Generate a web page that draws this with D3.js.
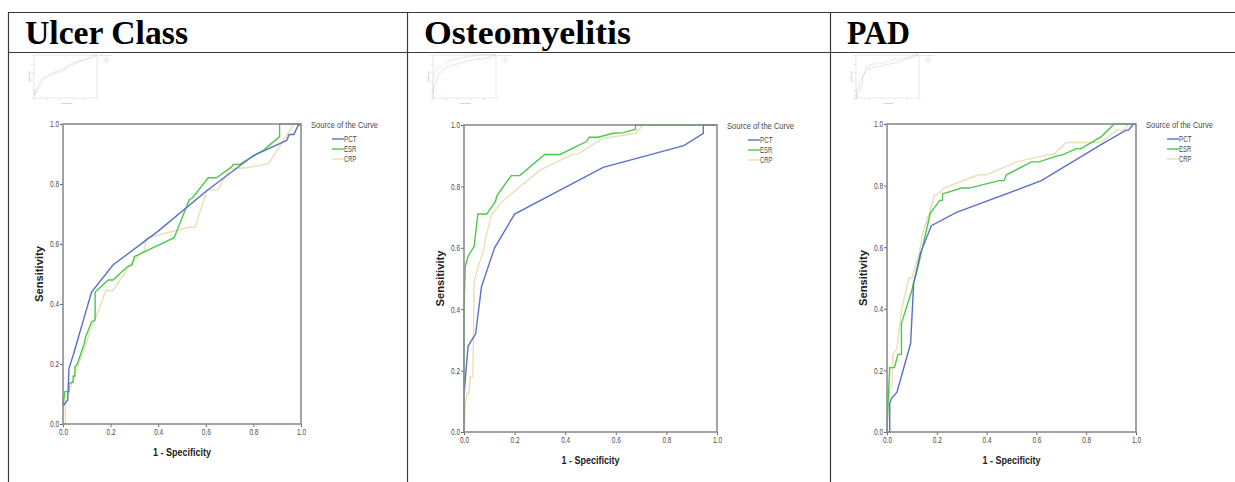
<!DOCTYPE html>
<html>
<head>
<meta charset="utf-8">
<script src="https://cdnjs.cloudflare.com/ajax/libs/d3/7.8.5/d3.min.js"></script>
<style>
  body { margin: 0; background: #fff; }
  svg { display: block; }
</style>
</head>
<body>
<svg id="main"></svg>
<script>
// ROC points [1 - specificity, sensitivity]
const ulcerPCT = [[0,0.06],[0.02,0.08],[0.025,0.185],[0.043,0.23],[0.12,0.44],[0.21,0.53],[0.4,0.643],[0.6,0.775],[0.8,0.895],[0.94,0.945],[0.95,0.965],[0.97,0.965],[0.987,0.994],[1,1]];
const ulcerESR = [[0,0.06],[0.008,0.108],[0.025,0.108],[0.025,0.135],[0.043,0.14],[0.043,0.16],[0.05,0.16],[0.05,0.19],[0.06,0.2],[0.09,0.27],[0.095,0.29],[0.12,0.34],[0.135,0.347],[0.135,0.44],[0.19,0.48],[0.21,0.48],[0.27,0.524],[0.29,0.53],[0.3,0.558],[0.467,0.621],[0.53,0.747],[0.545,0.755],[0.555,0.765],[0.61,0.821],[0.645,0.821],[0.71,0.858],[0.715,0.865],[0.74,0.865],[0.843,0.913],[0.91,0.958],[0.91,1],[1,1]];
const ulcerCRP = [[0,0],[0.01,0],[0.01,0.08],[0.02,0.1],[0.03,0.12],[0.045,0.15],[0.06,0.19],[0.09,0.25],[0.11,0.3],[0.13,0.34],[0.14,0.36],[0.15,0.38],[0.18,0.445],[0.21,0.445],[0.24,0.48],[0.28,0.53],[0.33,0.57],[0.345,0.58],[0.345,0.618],[0.45,0.64],[0.53,0.656],[0.555,0.656],[0.605,0.78],[0.65,0.78],[0.7,0.85],[0.78,0.855],[0.864,0.868],[0.93,0.95],[0.97,1],[1,1]];

const osteoPCT = [[0,0.12],[0.016,0.28],[0.046,0.32],[0.069,0.473],[0.121,0.6],[0.2,0.71],[0.55,0.862],[0.869,0.933],[0.946,0.973],[0.946,1],[1,1]];
const osteoESR = [[0,0],[0,0.4],[0.005,0.54],[0.015,0.57],[0.04,0.605],[0.055,0.71],[0.09,0.71],[0.125,0.752],[0.13,0.77],[0.187,0.835],[0.22,0.835],[0.319,0.904],[0.38,0.904],[0.484,0.946],[0.495,0.96],[0.53,0.96],[0.59,0.973],[0.63,0.975],[0.678,0.986],[0.678,1],[1,1]];
const osteoCRP = [[0,0],[0.005,0.085],[0.012,0.126],[0.02,0.126],[0.025,0.18],[0.035,0.18],[0.04,0.49],[0.06,0.55],[0.078,0.593],[0.085,0.63],[0.11,0.71],[0.15,0.75],[0.3,0.853],[0.43,0.905],[0.45,0.905],[0.55,0.957],[0.58,0.96],[0.678,0.973],[0.708,1],[1,1]];

const padPCT = [[0,0],[0.011,0],[0.011,0.093],[0.017,0.108],[0.04,0.129],[0.067,0.207],[0.095,0.288],[0.107,0.483],[0.134,0.58],[0.178,0.67],[0.279,0.713],[0.62,0.816],[0.853,0.93],[0.96,0.98],[0.97,0.98],[0.99,1],[1,1]];
const padESR = [[0,0],[0.004,0.09],[0.011,0.209],[0.03,0.209],[0.044,0.252],[0.058,0.252],[0.058,0.353],[0.1,0.46],[0.105,0.48],[0.12,0.52],[0.174,0.711],[0.212,0.752],[0.223,0.752],[0.223,0.773],[0.3,0.792],[0.33,0.792],[0.45,0.816],[0.47,0.816],[0.48,0.835],[0.58,0.877],[0.61,0.877],[0.69,0.898],[0.7,0.898],[0.761,0.92],[0.78,0.92],[0.862,0.96],[0.912,1],[1,1]];
const padCRP = [[0,0],[0.004,0.085],[0.012,0.14],[0.02,0.15],[0.024,0.252],[0.04,0.27],[0.044,0.3],[0.058,0.397],[0.088,0.5],[0.1,0.5],[0.129,0.58],[0.145,0.65],[0.178,0.732],[0.19,0.77],[0.2,0.77],[0.229,0.792],[0.366,0.835],[0.4,0.835],[0.52,0.877],[0.66,0.902],[0.67,0.902],[0.72,0.94],[0.86,0.94],[0.922,0.98],[0.95,0.98],[0.97,1],[1,1]];

const titles = ['Ulcer Class', 'Osteomyelitis', 'PAD'];
const seriesNames = ['PCT', 'ESR', 'CRP'];
const seriesColors = ['#5b6fcc', '#4cc84c', '#e8e0b4'];
const ticks = [0, 0.2, 0.4, 0.6, 0.8, 1.0];

const panelData = [
  [ulcerPCT, ulcerESR, ulcerCRP],
  [osteoPCT, osteoESR, osteoCRP],
  [padPCT, padESR, padCRP]
];

// layout
const width = 1235, height = 482;
const cells = [8, 407, 830];
const titleWidths = [163, 207, 63];
const plots = [
  { x0: 63, x1: 301, y0: 124, y1: 424 },
  { x0: 464, x1: 717, y0: 125, y1: 432 },
  { x0: 887, x1: 1136, y0: 124, y1: 432 }
];

const svg = d3.select('#main')
  .attr('width', width)
  .attr('height', height);

// table lines
const lineCol = '#3a3a3a';
svg.append('line').attr('x1', 8).attr('x2', width).attr('y1', 12.5).attr('y2', 12.5)
  .attr('stroke', lineCol).attr('stroke-width', 1.2);
svg.append('line').attr('x1', 8).attr('x2', width).attr('y1', 52.5).attr('y2', 52.5)
  .attr('stroke', lineCol).attr('stroke-width', 1.2);
cells.forEach(cx => {
  svg.append('line').attr('x1', cx + 0.5).attr('x2', cx + 0.5).attr('y1', 12).attr('y2', height)
    .attr('stroke', lineCol).attr('stroke-width', 1.2);
});

titles.forEach((t, i) => {
  svg.append('text')
    .text(t)
    .attr('x', cells[i] + 17)
    .attr('y', 44)
    .attr('font-family', 'Liberation Serif')
    .attr('font-weight', 'bold')
    .attr('font-size', 34)
    .attr('textLength', titleWidths[i])
    .attr('lengthAdjust', 'spacingAndGlyphs')
    .attr('fill', '#000');
});

const drawRoc = (g, p, data, opts) => {
  const x = d3.scaleLinear().domain([0, 1]).range([p.x0, p.x1]);
  const y = d3.scaleLinear().domain([0, 1]).range([p.y1, p.y0]);
  const s = opts.s;

  g.append('g')
    .attr('transform', `translate(0, ${p.y1})`)
    .call(d3.axisBottom(x).tickValues(ticks).tickFormat(d3.format('.1f')).tickSize(3 * s).tickPadding(2 * s))
    .call(a => {
      a.select('.domain').remove();
      a.selectAll('line').attr('stroke', opts.axisCol).attr('stroke-width', s);
      a.selectAll('text').attr('font-family', 'Liberation Sans').attr('font-size', 8.5 * s)
        .attr('fill', opts.textCol).attr('textLength', 9 * s).attr('lengthAdjust', 'spacingAndGlyphs');
    });

  g.append('g')
    .attr('transform', `translate(${p.x0}, 0)`)
    .call(d3.axisLeft(y).tickValues(ticks).tickFormat(d3.format('.1f')).tickSize(3 * s).tickPadding(1 * s))
    .call(a => {
      a.select('.domain').remove();
      a.selectAll('line').attr('stroke', opts.axisCol).attr('stroke-width', s);
      a.selectAll('text').attr('font-family', 'Liberation Sans').attr('font-size', 8.5 * s)
        .attr('fill', opts.textCol).attr('textLength', 9 * s).attr('lengthAdjust', 'spacingAndGlyphs')
        .attr('dy', '0.35em');
    });

  const line = d3.line().x(d => x(d[0])).y(d => y(d[1]));

  // curves drawn CRP first so PCT sits on top
  [2, 1, 0].forEach(k => {
    g.append('path')
      .datum(data[k])
      .attr('d', line)
      .attr('fill', 'none')
      .attr('stroke', seriesColors[k])
      .attr('stroke-opacity', opts.curveOpacity)
      .attr('stroke-width', 1.4 * s);
  });

  g.append('rect')
    .attr('x', p.x0).attr('y', p.y0)
    .attr('width', p.x1 - p.x0).attr('height', p.y1 - p.y0)
    .attr('fill', 'none')
    .attr('stroke', opts.frameCol)
    .attr('stroke-width', 1.6 * s);

  g.append('text')
    .text('Sensitivity')
    .attr('transform', `translate(${p.x0 - 20 * s}, ${(p.y0 + p.y1) / 2}) rotate(-90)`)
    .attr('text-anchor', 'middle')
    .attr('font-family', 'Liberation Sans')
    .attr('font-weight', 'bold')
    .attr('font-size', 11 * s)
    .attr('textLength', 56 * s)
    .attr('lengthAdjust', 'spacingAndGlyphs')
    .attr('fill', opts.labelCol);

  g.append('text')
    .text('1 - Specificity')
    .attr('x', (p.x0 + p.x1) / 2)
    .attr('y', p.y1 + 32 * s)
    .attr('text-anchor', 'middle')
    .attr('font-family', 'Liberation Sans')
    .attr('font-weight', 'bold')
    .attr('font-size', 11 * s)
    .attr('textLength', 58 * s)
    .attr('lengthAdjust', 'spacingAndGlyphs')
    .attr('fill', opts.labelCol);

  // legend
  g.append('text')
    .text('Source of the Curve')
    .attr('x', p.x1 + 10 * s)
    .attr('y', p.y0 + 3.5 * s)
    .attr('font-family', 'Liberation Sans')
    .attr('font-size', 9.5 * s)
    .attr('textLength', 67 * s)
    .attr('lengthAdjust', 'spacingAndGlyphs')
    .attr('fill', opts.textCol);

  seriesNames.forEach((n, k) => {
    const ly = p.y0 + (15 + 10 * k) * s;
    g.append('line')
      .attr('x1', p.x1 + 31 * s).attr('x2', p.x1 + 43 * s)
      .attr('y1', ly).attr('y2', ly)
      .attr('stroke', seriesColors[k])
      .attr('stroke-opacity', opts.curveOpacity)
      .attr('stroke-width', 1.4 * s);
    g.append('text')
      .text(n)
      .attr('x', p.x1 + 43 * s)
      .attr('y', ly + 3 * s)
      .attr('font-family', 'Liberation Sans')
      .attr('font-size', 8.5 * s)
      .attr('textLength', 12.5 * s)
      .attr('lengthAdjust', 'spacingAndGlyphs')
      .attr('fill', opts.textCol);
  });
};

plots.forEach((p, i) => {
  drawRoc(svg.append('g'), p, panelData[i], {
    s: 1, axisCol: '#666', textCol: '#4a4a4a', labelCol: '#222',
    frameCol: '#8c8c8c', curveOpacity: 1
  });

  // faded thumbnail copy in the top-left of each cell
  const tx = cells[i] + 26;
  const thumb = { x0: tx, x1: tx + 63, y0: 55, y1: 98 };
  drawRoc(svg.append('g').attr('opacity', 0.8), thumb, panelData[i], {
    s: 0.2, axisCol: '#999', textCol: '#999', labelCol: '#888',
    frameCol: '#aaa', curveOpacity: 0.8
  });
});
</script>
</body>
</html>
